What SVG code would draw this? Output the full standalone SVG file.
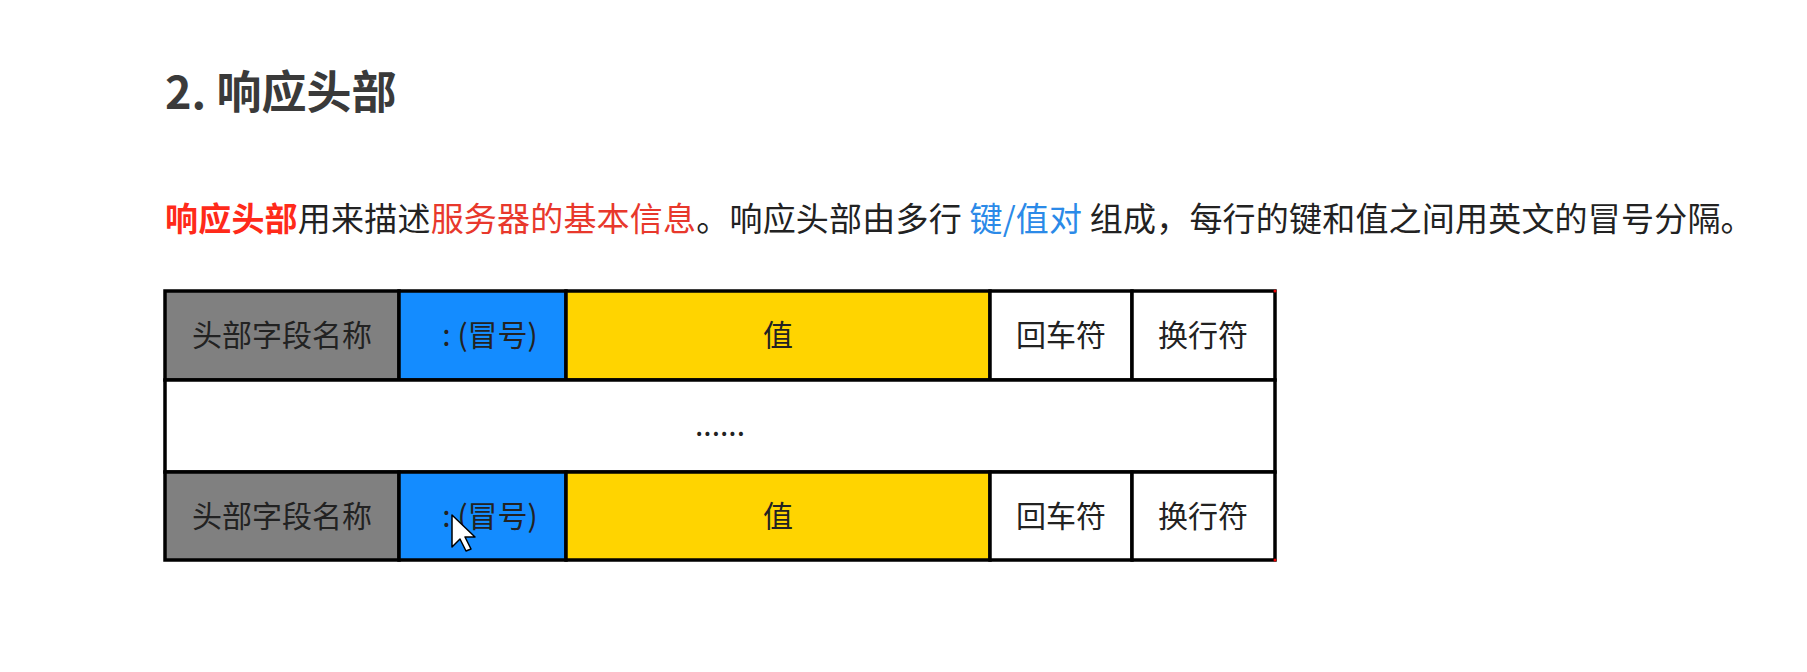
<svg xmlns="http://www.w3.org/2000/svg" width="1807" height="672" viewBox="0 0 1807 672">
<style>
.t{font-family:"Noto Sans CJK SC","Liberation Sans",sans-serif}
.cell{stroke:#000;stroke-width:3.5}
.ct{font-family:"Noto Sans CJK SC","Liberation Sans",sans-serif;font-size:30px;text-anchor:middle;fill:#222}
</style>
<rect width="1807" height="672" fill="#fff"/>
<text class="t" x="165" y="109" font-size="45" font-weight="bold" fill="#3a3a3a">2. 响应头部</text>
<text class="t" x="165" y="231" font-size="33" fill="#222" letter-spacing="0.2"><tspan fill="#ff2a1a" font-weight="bold">响应头部</tspan><tspan>用来描述</tspan><tspan fill="#e8382c">服务器的基本信息</tspan><tspan>。响应头部由多行 </tspan><tspan fill="#2b8ae8">键/值对</tspan><tspan> 组成，每行的键和值之间用英文的冒号分隔。</tspan></text>
<g id="table">
<g id="row1">
<rect id="r1-name" class="cell" x="165" y="291" width="234" height="89" fill="#808080"/>
<rect id="r1-colon" class="cell" x="399" y="291" width="167" height="89" fill="#148cff"/>
<rect id="r1-value" class="cell" x="566" y="291" width="424" height="89" fill="#ffd400"/>
<rect id="r1-cr" class="cell" x="990" y="291" width="142" height="89" fill="#fff"/>
<rect id="r1-lf" class="cell" x="1132" y="291" width="143" height="89" fill="#fff"/>
<text class="ct" x="282" y="346">头部字段名称</text>
<text class="ct" x="490" y="346" fill="#14283e">:  (冒号)</text>
<text class="ct" x="778" y="346">值</text>
<text class="ct" x="1061" y="346" fill="#333">回车符</text>
<text class="ct" x="1203" y="346" fill="#333">换行符</text>
</g>
<g id="row2">
<rect class="cell" x="165" y="380" width="1110" height="92" fill="#fff"/>
<text class="ct" x="720" y="436" fill="#333">......</text>
</g>
<g id="row3">
<rect id="r3-name" class="cell" x="165" y="472" width="234" height="88" fill="#808080"/>
<rect id="r3-colon" class="cell" x="399" y="472" width="167" height="88" fill="#148cff"/>
<rect id="r3-value" class="cell" x="566" y="472" width="424" height="88" fill="#ffd400"/>
<rect id="r3-cr" class="cell" x="990" y="472" width="142" height="88" fill="#fff"/>
<rect id="r3-lf" class="cell" x="1132" y="472" width="143" height="88" fill="#fff"/>
<text class="ct" x="282" y="527">头部字段名称</text>
<text class="ct" x="490" y="527" fill="#14283e">:  (冒号)</text>
<text class="ct" x="778" y="527">值</text>
<text class="ct" x="1061" y="527" fill="#333">回车符</text>
<text class="ct" x="1203" y="527" fill="#333">换行符</text>
</g>
</g>
<g id="connectors"></g>
<polygon points="452,515 452,547 460,539 466,551 471,549 465,537 475,537" fill="#fff" stroke="#000" stroke-width="1.5" stroke-linejoin="round"/>
<circle cx="1275" cy="291" r="1.5" fill="#e00"/>
<circle cx="1275" cy="560" r="1.5" fill="#e00"/>
</svg>
